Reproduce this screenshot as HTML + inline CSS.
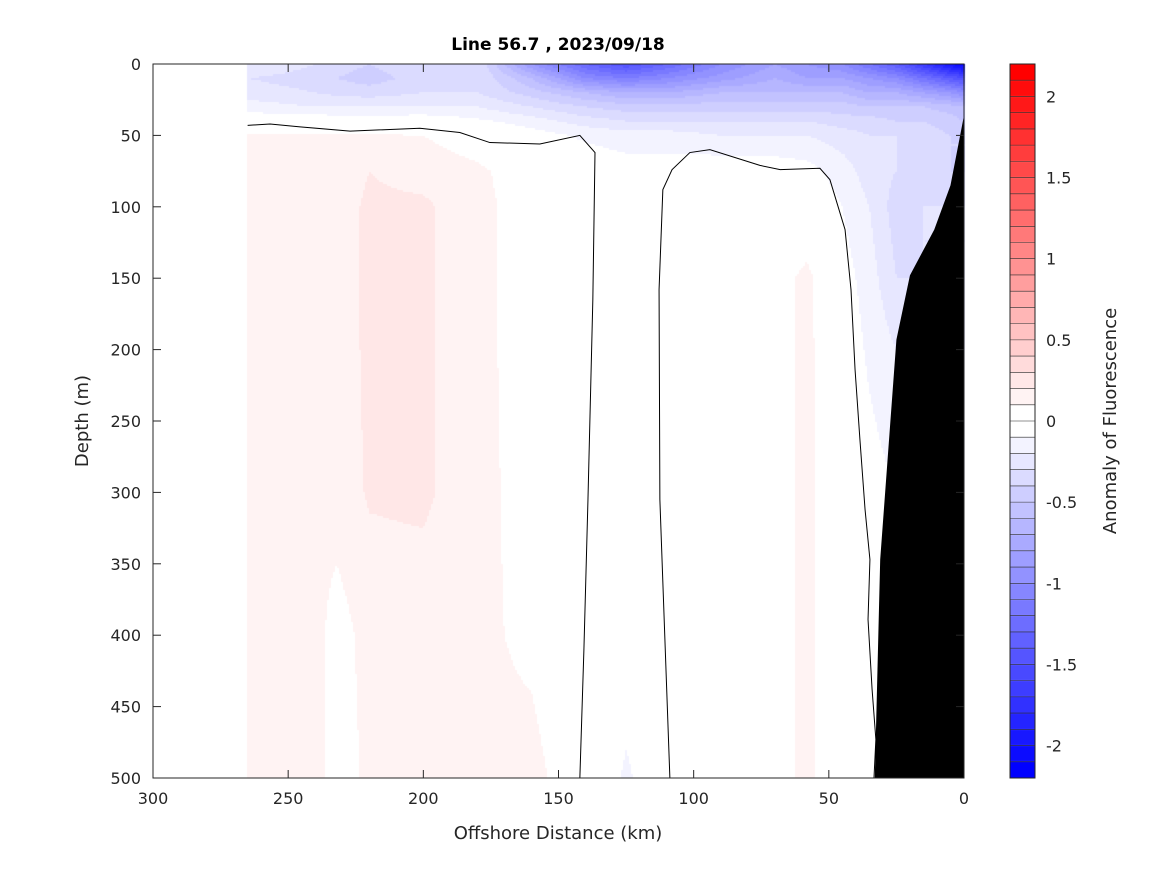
<!DOCTYPE html>
<html><head><meta charset="utf-8"><style>
body{margin:0;background:#fff;width:1167px;height:875px;overflow:hidden;position:relative;font-family:"DejaVu Sans","Liberation Sans",sans-serif}
canvas,svg{position:absolute;left:0;top:0}
</style></head><body>
<canvas id="cv" width="1167" height="875"></canvas>
<svg id="sv" width="1167" height="875"></svg>
<script>
// ---- data ----
const dists=[265,240,232,220,200,180,160,140,125,110,90,70,58,45,35,25,15,5,0];
const depths=[0,10,20,30,40,50,75,100,150,200,300,400,500];
const field=[
[-0.2,-0.3,-0.35,-0.4,-0.3,-0.3,-0.9,-1.3,-1.5,-1.3,-1.0,-0.8,-0.9,-1.0,-1.2,-1.4,-1.7,-2.0,-2.15],
[-0.3,-0.35,-0.4,-0.45,-0.35,-0.3,-0.6,-1.0,-1.1,-1.0,-0.85,-0.7,-0.8,-0.8,-0.9,-1.0,-1.2,-1.4,-1.5],
[-0.25,-0.3,-0.33,-0.35,-0.3,-0.3,-0.45,-0.6,-0.7,-0.7,-0.6,-0.6,-0.6,-0.6,-0.7,-0.7,-0.8,-0.9,-1.0],
[-0.15,-0.2,-0.2,-0.2,-0.2,-0.2,-0.3,-0.4,-0.45,-0.45,-0.45,-0.45,-0.45,-0.45,-0.5,-0.5,-0.5,-0.55,-0.6],
[-0.02,-0.02,-0.03,-0.04,-0.02,-0.08,-0.15,-0.25,-0.3,-0.3,-0.3,-0.3,-0.3,-0.35,-0.35,-0.4,-0.4,-0.45,-0.5],
[0.11,0.11,0.11,0.11,0.1,0.04,-0.05,-0.12,-0.15,-0.15,-0.2,-0.2,-0.2,-0.25,-0.3,-0.3,-0.35,-0.4,-0.4],
[0.12,0.13,0.14,0.2,0.16,0.12,0.04,-0.02,-0.05,-0.05,-0.02,-0.03,-0.06,-0.15,-0.25,-0.3,-0.35,-0.4,-0.4],
[0.12,0.13,0.15,0.22,0.22,0.13,0.05,0.0,-0.05,-0.03,0.02,0.02,0.0,-0.1,-0.2,-0.35,-0.3,-0.3,-0.3],
[0.12,0.13,0.15,0.22,0.22,0.13,0.05,0.0,-0.05,-0.02,0.05,0.05,0.13,-0.05,-0.15,-0.3,-0.3,-0.3,-0.3],
[0.12,0.13,0.15,0.22,0.22,0.13,0.05,0.0,-0.03,0.0,0.05,0.05,0.13,-0.02,-0.12,-0.2,-0.2,-0.2,-0.2],
[0.12,0.13,0.15,0.21,0.22,0.13,0.06,0.0,-0.02,0.0,0.05,0.05,0.13,0.0,-0.05,-0.1,-0.1,-0.1,-0.1],
[0.11,0.14,0.05,0.14,0.14,0.12,0.08,0.0,-0.02,0.0,0.05,0.05,0.13,0.0,0.0,0.0,0.0,0.0,0.0],
[0.11,0.14,0.05,0.12,0.12,0.12,0.13,0.03,-0.12,0.0,0.05,0.05,0.13,0.0,0.0,0.0,0.0,0.0,0.0]];
const bathyDist=[0,5,11,20,25,31,33];
const bathyDepth=[36,85,116,148,193,347,500];
const c1Dist=[265,256.7,245.6,227.1,201.3,186.5,175.4,156.9,142.1,136.5,137.3,139.1,140.6,142.1];
const c1Depth=[43,42,44,47,45,48,55,56,50,62,165,305,410,500];
const c2Dist=[108.8,112.5,112.8,111.4,108,101.4,94,75.5,68,53.3,49.6,44,41.8,40.3,38.5,36.6,34.8,35.5,34,32.6,33.3];
const c2Depth=[500,305,158,88,74,62,60,71,74,73,81,116,158,214,263,312,347,389,438,473,500];
const xTicks=[300,250,200,150,100,50,0];
const yTicks=[0,50,100,150,200,250,300,350,400,450,500];
const cbTicks=[-2,-1.5,-1,-0.5,0,0.5,1,1.5,2];
// ---- axes ----
const X0=153,X1=964,Y0=64,Y1=778;
const xs=d=>X1-(d/300)*(X1-X0);
const ys=z=>Y0+(z/500)*(Y1-Y0);
const CB0=1010,CB1=1035;
const cby=v=>Y0+(2.2-v)/4.4*(Y1-Y0);
function bandColor(v){
  let k=Math.floor(Math.abs(v)/0.1); if(k>21)k=21;
  const t=k/21, c=Math.round(255*(1-t));
  return v>=0?`rgb(255,${c},${c})`:`rgb(${c},${c},255)`;
}
function seg(arr,v){
  for(let i=0;i<arr.length-1;i++){const a=arr[i],b=arr[i+1];
    if((v-a)*(v-b)<=0){return [i,(v-a)/(b-a)];}}
  return null;
}
function val(d,z){
  const sx=seg(dists,d), sy=seg(depths,z); if(!sx||!sy)return null;
  const [i,fx]=sx,[j,fy]=sy;
  const a=field[j][i],b=field[j][i+1],c=field[j+1][i],e=field[j+1][i+1];
  return (a*(1-fx)+b*fx)*(1-fy)+(c*(1-fx)+e*fx)*fy;
}
const cv=document.getElementById('cv'),ctx=cv.getContext('2d');
const S=2;
for(let px=X0;px<X1;px+=S){for(let py=Y0;py<Y1;py+=S){
  const d=(X1-(px+S/2))/(X1-X0)*300, z=(py+S/2-Y0)/(Y1-Y0)*500;
  const v=val(d,z); if(v===null)continue;
  ctx.fillStyle=bandColor(v); ctx.fillRect(px,py,S,S);
}}
for(let k=0;k<44;k++){const lo=-2.2+k*0.1;
  ctx.fillStyle=bandColor(lo+0.05); ctx.fillRect(CB0,cby(lo+0.1),CB1-CB0,cby(lo)-cby(lo+0.1));}
// ---- svg ----
const NS='http://www.w3.org/2000/svg',sv=document.getElementById('sv');
function mk(t,at,p){const e=document.createElementNS(NS,t);for(const k in at)e.setAttribute(k,at[k]);(p||sv).appendChild(e);return e;}
let pts=bathyDist.map((d,i)=>xs(d)+','+ys(bathyDepth[i]));
pts.push(xs(0)+','+ys(500));
const bathy=mk('polygon',{points:pts.join(' '),fill:'#000'});


const l1=mk('polyline',{points:c1Dist.map((d,i)=>xs(d)+','+ys(c1Depth[i])).join(' '),fill:'none',stroke:'#000','stroke-width':1});


const l2=mk('polyline',{points:c2Dist.map((d,i)=>xs(d)+','+ys(c2Depth[i])).join(' '),fill:'none',stroke:'#000','stroke-width':1});


const frame=mk('rect',{x:X0,y:Y0,width:X1-X0,height:Y1-Y0,fill:'none',stroke:'#262626','stroke-width':1});


const T={fill:'#262626','font-size':16};
xTicks.forEach(t=>{const x=xs(t);
  mk('line',{x1:x,x2:x,y1:Y1,y2:Y1-8,stroke:'#262626'});mk('line',{x1:x,x2:x,y1:Y0,y2:Y0+8,stroke:'#262626'});
  const e=mk('text',Object.assign({x:x,y:Y1+26,'text-anchor':'middle'},T));e.textContent=t;
  
  });
yTicks.forEach(t=>{const y=ys(t);
  mk('line',{x1:X0,x2:X0+8,y1:y,y2:y,stroke:'#262626'});mk('line',{x1:X1,x2:X1-8,y1:y,y2:y,stroke:'#262626'});
  const e=mk('text',Object.assign({x:X0-12,y:y+6,'text-anchor':'end'},T));e.textContent=t;
  
  });
for(let k=0;k<=44;k++){const y=cby(-2.2+k*0.1);mk('line',{x1:CB0,x2:CB1,y1:y,y2:y,stroke:'#262626','stroke-width':0.6});}
const cbf=mk('rect',{x:CB0,y:Y0,width:CB1-CB0,height:Y1-Y0,fill:'none',stroke:'#262626'});


cbTicks.forEach(t=>{const y=cby(t);
  const e=mk('text',Object.assign({x:CB1+11,y:y+6},T));e.textContent=t;
  
  });
const ti=mk('text',{x:558,y:50,'text-anchor':'middle','font-size':17,'font-weight':'bold',fill:'#000'});ti.textContent='Line 56.7 , 2023/09/18';


const xl=mk('text',Object.assign({x:558,y:839,'text-anchor':'middle'},T,{'font-size':18}));xl.textContent='Offshore Distance (km)';


const yl=mk('text',Object.assign({x:0,y:0,'text-anchor':'middle',transform:'translate(88,421) rotate(-90)'},T,{'font-size':18}));yl.textContent='Depth (m)';


const cl=mk('text',Object.assign({x:0,y:0,'text-anchor':'middle',transform:'translate(1116,421) rotate(-90)'},T,{'font-size':18}));cl.textContent='Anomaly of Fluorescence';


</script>
</body></html>
